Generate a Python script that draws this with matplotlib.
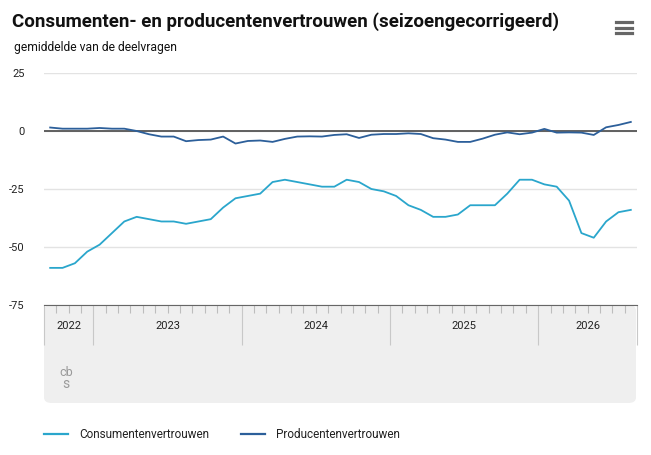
import numpy as np
import matplotlib
matplotlib.use('Agg')
import matplotlib.pyplot as plt
from matplotlib.patches import FancyBboxPatch
from matplotlib.lines import Line2D

plt.rcParams['font.family'] = ['Roboto', 'DejaVu Sans']

############################# Data #############################

# maandelijks, sep 2022 t/m aug 2026
consument = [-59, -59, -57, -52, -49, -44, -39, -37, -38, -39, -39, -40,
             -39, -38, -33, -29, -28, -27, -22, -21, -22, -23, -24, -24,
             -21, -22, -25, -26, -28, -32, -34, -37, -37, -36, -32, -32,
             -32, -27, -21, -21, -23, -24, -30, -44, -46, -39, -35, -34]
producent = [1.5, 1, 1, 1, 1.3, 1, 1, 0, -1.4, -2.4, -2.4, -4.4,
             -3.9, -3.7, -2.4, -5.4, -4.3, -4.1, -4.7, -3.4, -2.4, -2.3, -2.4, -1.7,
             -1.4, -3, -1.6, -1.3, -1.3, -1, -1.3, -3.1, -3.7, -4.7, -4.7, -3.3,
             -1.6, -0.6, -1.4, -0.7, 0.9, -0.7, -0.6, -0.7, -1.7, 1.6, 2.6, 3.9]
years = ['2022', '2023', '2024', '2025', '2026']
year_starts = [0, 4, 16, 28, 40, 48]   # maandindex van jaargrenzen
y_ticks = [25, 0, -25, -50, -75]

W, H = 651, 455
def fx(px): return px / W
def fy(py): return 1 - py / H

############################# Plot #############################

fig = plt.figure(figsize=(6.51, 4.55), dpi=100)
ax = fig.add_axes([fx(44), fy(305), fx(637) - fx(44), fy(73) - fy(305)])
ax.set_facecolor('none')

months = np.arange(len(consument)) + 0.5
c_cons = '#2aa6cc'
c_prod = '#2c5f9a'
ax.axhline(0, color='#555555', lw=1.3, zorder=2)
ax.plot(months, consument, color=c_cons, lw=1.3, zorder=3)
ax.plot(months, producent, color=c_prod, lw=1.3, zorder=3)

ax.set_xlim(0, 48)
ax.set_ylim(-75, 25)
ax.set_yticks(y_ticks)
ax.set_yticklabels([str(v) for v in y_ticks], fontsize=8, color='#222222')
ax.tick_params(axis='y', length=0, pad=14)
ax.grid(axis='y', color='#e3e3e3', lw=1)
for s in ['left', 'right', 'top']:
    ax.spines[s].set_visible(False)
ax.spines['bottom'].set_color('#666666')

ax.set_xticks(year_starts)
ax.set_xticklabels([])
ax.set_xticks(np.arange(0, 49), minor=True)
ax.tick_params(axis='x', which='major', length=29, width=0.8, color='#c8c8c8', direction='out')
ax.tick_params(axis='x', which='minor', length=6, width=0.8, color='#bdbdbd', direction='out')
for i, yr in enumerate(years):
    mid = (year_starts[i] + year_starts[i + 1]) / 2
    ax.text(mid, -0.09, yr, transform=ax.get_xaxis_transform(), ha='center', va='center',
            fontsize=8, color='#222222')

# grijze band onder de as
band = FancyBboxPatch((fx(44), fy(403)), fx(636) - fx(44), fy(305) - fy(403),
                      boxstyle='round,pad=0,rounding_size=0.012', transform=fig.transFigure,
                      facecolor='#efefef', edgecolor='none', zorder=-1)
fig.add_artist(band)

# cbs logo (benadering)
fig.text(fx(66), fy(372), 'cb', ha='center', va='center', fontsize=9, color='#9a9a9a')
fig.text(fx(66), fy(384), 's', ha='center', va='center', fontsize=10, color='#9a9a9a')

# titel
fig.text(fx(12), fy(22), 'Consumenten- en producentenvertrouwen (seizoengecorrigeerd)',
         ha='left', va='center', fontsize=13.5, fontweight='bold', color='#111111')
fig.text(fx(14), fy(47), 'gemiddelde van de deelvragen', ha='left', va='center',
         fontsize=8.7, color='#111111')

# menu icoon
for yy in [22, 27.5, 33]:
    fig.add_artist(Line2D([fx(616), fx(632)], [fy(yy), fy(yy)], color='#666666', lw=2.3,
                          transform=fig.transFigure))

# legenda
for x0, col, lab in [(44, c_cons, 'Consumentenvertrouwen'), (241, c_prod, 'Producentenvertrouwen')]:
    fig.add_artist(Line2D([fx(x0), fx(x0 + 24)], [fy(434), fy(434)], color=col, lw=1.6,
                          transform=fig.transFigure))
    fig.text(fx(x0 + 35), fy(434), lab, ha='left', va='center', fontsize=8.5, color='#222222')

plt.savefig('out.png', dpi=100)
